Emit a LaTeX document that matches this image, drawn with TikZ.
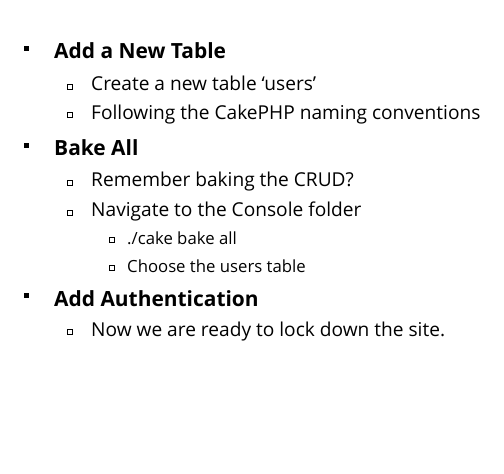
\documentclass[tikz,border=0pt]{standalone}
\usepackage{fontspec}
\setmainfont{Open Sans}
\usetikzlibrary{positioning}
\tikzstyle{lvlA} = [anchor=base west, inner sep=0pt, font=\fontsize{21}{25}\selectfont\bfseries]
\tikzstyle{lvlB} = [anchor=base west, inner sep=0pt, font=\fontsize{19.2}{23}\selectfont]
\tikzstyle{lvlC} = [anchor=base west, inner sep=0pt, font=\fontsize{16.8}{20}\selectfont]
\tikzstyle{bulA} = [fill=black, rectangle, inner sep=0pt, minimum size=4.5bp]
\tikzstyle{bulB} = [draw=black, line width=0.9bp, rectangle, inner sep=0pt, minimum size=5bp]

\begin{document}
\begin{tikzpicture}[x=1bp, y=-1bp]
			\useasboundingbox (0,0) rectangle (504,474);
			% level one
			\coordinate (T11) at (54,59);
			\coordinate (T12) at (54,156);
			\coordinate (T13) at (54,306);
			% level two
			\coordinate (T21) at (91,91);
			\coordinate (T22) at (91,119.5);
			\coordinate (T23) at (91,187);
			\coordinate (T24) at (91,217);
			\coordinate (T25) at (91,336);
			% level three
			\coordinate (T31) at (127,244.5);
			\coordinate (T32) at (127,272);
			\begin{scope}[every node/.style={lvlA}]
			\node[name=A1] at (T11) {Add a New Table};
			\node[name=A2] at (T12) {Bake All};
			\node[name=A3] at (T13) {Add Authentication};
			\end{scope}
			\begin{scope}[every node/.style={lvlB}]
			\node[name=B1] at (T21) {Create a new table ‘users’};
			\node[name=B2] at (T22) {Following the CakePHP naming conventions};
			\node[name=B3] at (T23) {Remember baking the CRUD?};
			\node[name=B4] at (T24) {Navigate to the Console folder};
			\node[name=B5] at (T25) {Now we are ready to lock down the site.};
			\end{scope}
			\begin{scope}[every node/.style={lvlC}]
			\node[name=C1] at (T31) {./cake bake all};
			\node[name=C2] at (T32) {Choose the users table};
			\end{scope}
			% bullets
			\foreach \n in {A1,A2,A3}
				\node[bulA] at ([xshift=-27.5bp, yshift=10.5bp]\n.base west) {};
			\foreach \n in {B1,B2,B3,B4,B5}
				\node[bulB] at ([xshift=-21bp, yshift=4.5bp]\n.base west) {};
			\foreach \n in {C1,C2}
				\node[bulB] at ([xshift=-15bp, yshift=4.5bp]\n.base west) {};
\end{tikzpicture}
\end{document}
